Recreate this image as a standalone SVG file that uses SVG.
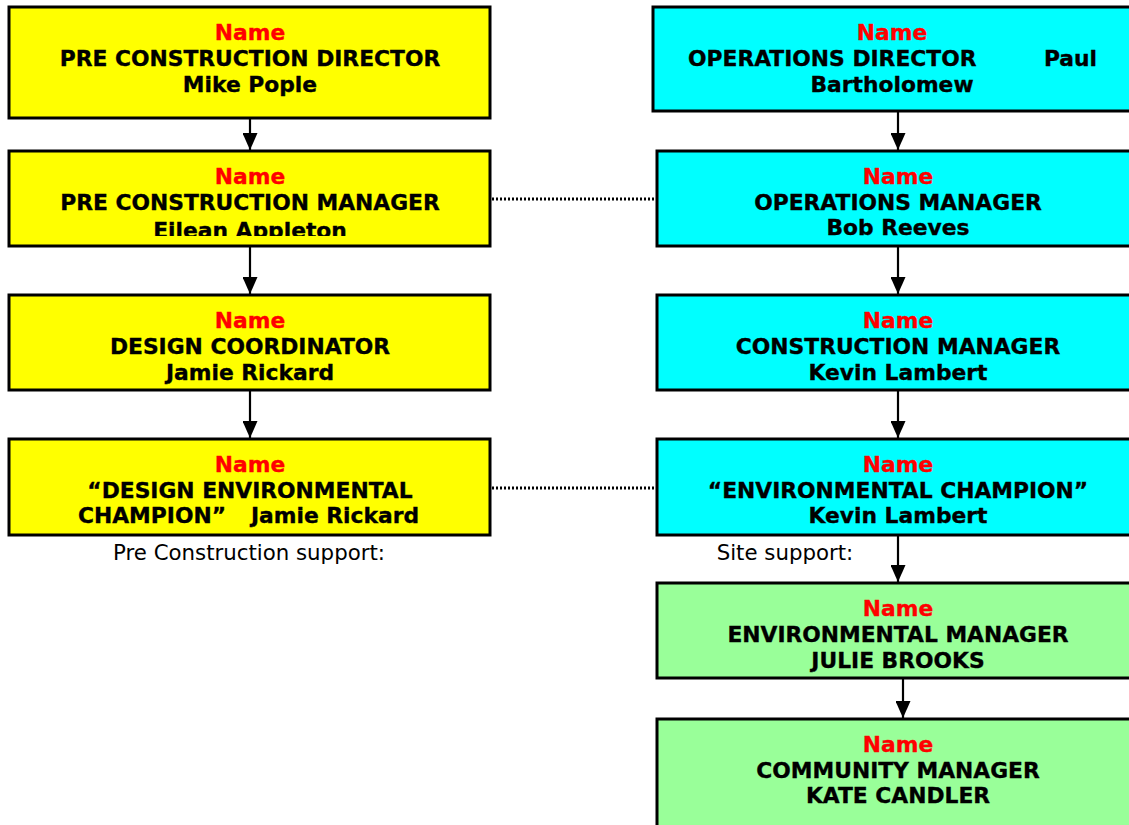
<svg xmlns="http://www.w3.org/2000/svg" width="1129" height="825" viewBox="0 0 1129 825">
  <style>
    .box { stroke: #000; stroke-width: 3; }
    .pre { fill: #ffff00; }
    .ops { fill: #00ffff; }
    .env { fill: #99ff99; }
    text { font-family: "DejaVu Sans", Verdana, sans-serif; font-size: 21.3px; }
    .t, .nm { font-size: 21.8px; font-weight: bold; text-anchor: middle; stroke-width: 0.35; }
    .t { fill: #000; stroke: #000; }
    .nm { fill: #ff0000; stroke: #ff0000; }
    .lbl { fill: #000; text-anchor: middle; }
    .link { stroke: #000; stroke-width: 2.2; fill: none; }
    .dot { stroke: #000; stroke-width: 3; stroke-dasharray: 2 2; fill: none; }
  </style>
  <defs>
    <marker id="head" markerUnits="userSpaceOnUse" markerWidth="17" markerHeight="15" refX="17" refY="7.5" orient="auto" viewBox="0 0 17 15">
      <path d="M0,0 L17,7.5 L0,15 Z" fill="#000"/>
    </marker>
    <clipPath id="clipPcm">
      <rect x="10" y="152" width="478" height="84"/>
    </clipPath>
  </defs>

  <rect width="1129" height="825" fill="#fff"/>

  <!-- connectors -->
  <g id="connectors">
    <line class="link" x1="250" y1="119" x2="250" y2="150" marker-end="url(#head)"/>
    <line class="link" x1="250" y1="247" x2="250" y2="294" marker-end="url(#head)"/>
    <line class="link" x1="250" y1="391" x2="250" y2="438" marker-end="url(#head)"/>
    <line class="link" x1="898" y1="112" x2="898" y2="150" marker-end="url(#head)"/>
    <line class="link" x1="898" y1="247" x2="898" y2="294" marker-end="url(#head)"/>
    <line class="link" x1="898" y1="391" x2="898" y2="438" marker-end="url(#head)"/>
    <line class="link" x1="898" y1="536" x2="898" y2="582" marker-end="url(#head)"/>
    <line class="link" x1="903" y1="679" x2="903" y2="718" marker-end="url(#head)"/>
    <line class="dot" x1="492" y1="199" x2="655" y2="199"/>
    <line class="dot" x1="492" y1="488" x2="655" y2="488"/>
  </g>

  <!-- pre construction column -->
  <g id="pre-director">
    <rect class="box pre" x="9" y="7" width="481" height="111"/>
    <text class="nm" x="250" y="40">Name</text>
    <text class="t" x="250" y="66">PRE CONSTRUCTION DIRECTOR</text>
    <text class="t" x="250" y="92">Mike Pople</text>
  </g>
  <g id="pre-manager">
    <rect class="box pre" x="9" y="151" width="481" height="95"/>
    <text class="nm" x="250" y="184">Name</text>
    <text class="t" x="250" y="210">PRE CONSTRUCTION MANAGER</text>
    <text class="t" x="250" y="238" clip-path="url(#clipPcm)">Eilean Appleton</text>
  </g>
  <g id="design-coordinator">
    <rect class="box pre" x="9" y="295" width="481" height="95"/>
    <text class="nm" x="250" y="328">Name</text>
    <text class="t" x="250" y="354">DESIGN COORDINATOR</text>
    <text class="t" x="250" y="380">Jamie Rickard</text>
  </g>
  <g id="design-champion">
    <rect class="box pre" x="9" y="439" width="481" height="96"/>
    <text class="nm" x="250" y="472">Name</text>
    <text class="t" x="250" y="498">“DESIGN ENVIRONMENTAL</text>
    <text class="t" x="78" y="523" style="text-anchor:start">CHAMPION”</text>
    <text class="t" x="419" y="523" style="text-anchor:end">Jamie Rickard</text>
  </g>
  <text class="lbl" x="249" y="560">Pre Construction support:</text>

  <!-- operations column -->
  <g id="ops-director">
    <rect class="box ops" x="653" y="7" width="478" height="104"/>
    <text class="nm" x="892" y="40">Name</text>
    <text class="t" x="688" y="66" style="text-anchor:start">OPERATIONS DIRECTOR</text>
    <text class="t" x="1097" y="66" style="text-anchor:end">Paul</text>
    <text class="t" x="892" y="92">Bartholomew</text>
  </g>
  <g id="ops-manager">
    <rect class="box ops" x="657" y="151" width="484" height="95"/>
    <text class="nm" x="898" y="184">Name</text>
    <text class="t" x="898" y="210">OPERATIONS MANAGER</text>
    <text class="t" x="898" y="235">Bob Reeves</text>
  </g>
  <g id="construction-manager">
    <rect class="box ops" x="657" y="295" width="484" height="95"/>
    <text class="nm" x="898" y="328">Name</text>
    <text class="t" x="898" y="354">CONSTRUCTION MANAGER</text>
    <text class="t" x="898" y="380">Kevin Lambert</text>
  </g>
  <g id="env-champion">
    <rect class="box ops" x="657" y="439" width="484" height="96"/>
    <text class="nm" x="898" y="472">Name</text>
    <text class="t" x="898" y="498">“ENVIRONMENTAL CHAMPION”</text>
    <text class="t" x="898" y="523">Kevin Lambert</text>
  </g>
  <text class="lbl" x="785" y="560">Site support:</text>

  <!-- site support -->
  <g id="env-manager">
    <rect class="box env" x="657" y="583" width="484" height="95"/>
    <text class="nm" x="898" y="616">Name</text>
    <text class="t" x="898" y="642">ENVIRONMENTAL MANAGER</text>
    <text class="t" x="898" y="668">JULIE BROOKS</text>
  </g>
  <g id="community-manager">
    <rect class="box env" x="657" y="719" width="484" height="120"/>
    <text class="nm" x="898" y="752">Name</text>
    <text class="t" x="898" y="778">COMMUNITY MANAGER</text>
    <text class="t" x="898" y="803">KATE CANDLER</text>
  </g>
</svg>
